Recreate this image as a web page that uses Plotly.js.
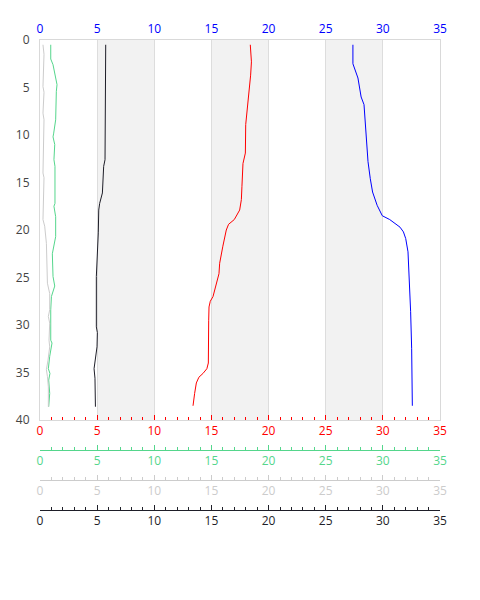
<!DOCTYPE html>
<html>
<head>
<meta charset="utf-8">
<script src="https://cdn.plot.ly/plotly-3.0.1.min.js"></script>
<style>html,body{margin:0;padding:0;background:#fff}#chart{width:480px;height:600px}</style>
</head>
<body>
<div id="chart"></div>
<script>
// Data (depth vs value)
const blueDepth = [0.5, 2.5, 4.0, 6.0, 6.8, 9.6, 12.8, 14.6, 16.0, 17.4, 18.5, 18.9, 19.3, 19.7, 20.2, 20.9, 22.3, 24.7, 26.5, 28.6, 32.5, 38.5];
const blueVal = [27.38, 27.38, 27.82, 28.1, 28.35, 28.5, 28.7, 28.9, 29.1, 29.5, 29.95, 30.6, 31.1, 31.5, 31.8, 32.0, 32.2, 32.3, 32.35, 32.43, 32.52, 32.58];

const redDepth = [0.5, 2.3, 3.7, 6.5, 8.9, 11.9, 13.0, 15.4, 16.8, 17.9, 18.6, 18.9, 19.4, 20.0, 21.7, 23.5, 24.6, 25.6, 26.3, 27.0, 27.5, 28.1, 29.5, 34.0, 34.6, 35.1, 35.5, 36.1, 37.2, 38.5];
const redVal = [18.4, 18.5, 18.43, 18.2, 18.0, 17.97, 17.76, 17.67, 17.62, 17.47, 17.18, 17.0, 16.5, 16.3, 16.0, 15.72, 15.66, 15.43, 15.28, 15.14, 14.9, 14.79, 14.76, 14.73, 14.6, 14.26, 13.9, 13.68, 13.53, 13.39];

const blackDepth = [0.5, 1.75, 2.1, 12.6, 13.3, 15.4, 16.1, 17.2, 17.9, 20.3, 23.5, 24.9, 30.2, 30.8, 32.3, 33.3, 34.6, 35.6, 38.6];
const blackVal = [5.75, 5.75, 5.69, 5.69, 5.57, 5.51, 5.46, 5.22, 5.14, 5.1, 5.02, 4.93, 4.93, 5.02, 4.99, 4.87, 4.73, 4.81, 4.85];

const greenDepth = [0.5, 2.0, 2.6, 3.8, 4.7, 5.4, 8.4, 9.8, 10.2, 11.0, 12.6, 13.3, 17.2, 17.5, 18.6, 20.7, 22.5, 24.9, 25.9, 27.0, 28.4, 31.6, 31.9, 33.3, 34.6, 35.1, 35.8, 37.2, 38.6];
const greenVal = [0.94, 0.94, 1.14, 1.37, 1.49, 1.43, 1.37, 1.2, 1.14, 1.29, 1.22, 1.31, 1.31, 1.22, 1.37, 1.37, 1.08, 1.14, 1.29, 1.0, 0.94, 0.94, 1.05, 0.85, 0.73, 0.87, 0.76, 0.85, 0.76];

const grayDepth = [0.5, 1.5, 4.9, 5.5, 7.7, 8.4, 14.0, 14.5, 18.9, 19.6, 21.4, 23.8, 25.6, 26.7, 28.4, 29.1, 29.8, 31.6, 32.3, 33.7, 34.7, 35.4, 36.5, 38.6];
const grayVal = [0.26, 0.35, 0.26, 0.35, 0.26, 0.35, 0.26, 0.35, 0.26, 0.41, 0.56, 0.61, 0.65, 0.85, 0.85, 0.73, 0.85, 0.79, 0.85, 0.7, 0.56, 0.65, 0.73, 0.73];

const bandStarts = [5, 15, 25];
const bandWidth = 5;
const xRange = [0, 35];
const yRange = [40, 0];

const RED = '#ff0000', BLUE = '#0000ff', GREEN = '#55d68c', GRAY = '#cccccc', BLACK = '#1e1e28';

const traces = [
  {x: grayVal, y: grayDepth, xaxis: 'x4', yaxis: 'y', mode: 'lines', line: {color: GRAY, width: 1}},
  {x: greenVal, y: greenDepth, xaxis: 'x3', yaxis: 'y', mode: 'lines', line: {color: GREEN, width: 1}},
  {x: blackVal, y: blackDepth, xaxis: 'x5', yaxis: 'y', mode: 'lines', line: {color: BLACK, width: 1}},
  {x: redVal, y: redDepth, xaxis: 'x', yaxis: 'y', mode: 'lines', line: {color: RED, width: 1}},
  {x: blueVal, y: blueDepth, xaxis: 'x2', yaxis: 'y', mode: 'lines', line: {color: BLUE, width: 1}}
];

function freeAxis(color, pos) {
  return {
    range: xRange, anchor: 'free', position: pos, overlaying: 'x', side: 'bottom',
    showgrid: false, zeroline: false, showline: true, linecolor: color, linewidth: 1,
    ticks: 'inside', ticklen: 5, tickcolor: color, dtick: 5, tick0: 0,
    minor: {dtick: 1, ticks: 'inside', ticklen: 3, tickcolor: color, showgrid: false},
    tickfont: {color: color, size: 12}
  };
}

const shapes = bandStarts.map(s => ({
  type: 'rect', xref: 'x', yref: 'y domain', x0: s, x1: s + bandWidth, y0: 0, y1: 1,
  fillcolor: '#f2f2f2', line: {width: 0}, layer: 'below'
}));

const layout = {
  width: 480, height: 600,
  margin: {l: 40, r: 40, t: 40, b: 80},
  showlegend: false,
  paper_bgcolor: '#fff', plot_bgcolor: 'rgba(0,0,0,0)',
  font: {family: '"Open Sans", verdana, arial, sans-serif', size: 12, color: '#444'},
  shapes: shapes,
  yaxis: {
    range: yRange, domain: [0.2083, 1], dtick: 5, tick0: 0,
    showgrid: false, zeroline: false, showline: true, mirror: true,
    linecolor: '#d9d9d9', linewidth: 1, ticks: '', ticklabelstandoff: 7, tickfont: {color: '#444'}
  },
  xaxis: {
    range: xRange, anchor: 'y', side: 'bottom', dtick: 5, tick0: 0,
    showgrid: true, gridcolor: '#dddddd', gridwidth: 1, zeroline: false,
    showline: true, mirror: true, linecolor: '#d9d9d9', linewidth: 1,
    ticks: 'inside', ticklen: 5, tickcolor: RED,
    minor: {dtick: 1, ticks: 'inside', ticklen: 3, tickcolor: RED, showgrid: false},
    tickfont: {color: RED}
  },
  xaxis2: {
    range: xRange, anchor: 'y', overlaying: 'x', side: 'top', dtick: 5, tick0: 0,
    showgrid: false, zeroline: false, showline: false, ticks: '', ticklabelstandoff: 4,
    tickfont: {color: BLUE}
  },
  xaxis3: freeAxis(GREEN, 0.1458),
  xaxis4: freeAxis(GRAY, 0.0833),
  xaxis5: freeAxis(BLACK, 0.0208)
};

Plotly.newPlot('chart', traces, layout, {displayModeBar: false, staticPlot: true});
</script>
</body>
</html>
